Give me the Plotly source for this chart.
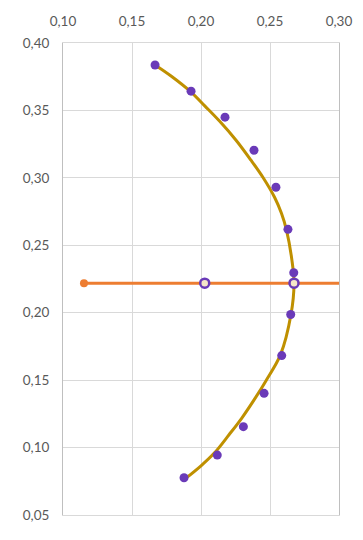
import plotly.graph_objects as go

# Measured points (purple)
pts_x = [0.1667, 0.1928, 0.2174, 0.2384, 0.2543, 0.2630, 0.2672, 0.2650, 0.2585, 0.2457, 0.2307, 0.2118, 0.1877]
pts_y = [0.3837, 0.3643, 0.3450, 0.3205, 0.2930, 0.2618, 0.2296, 0.1987, 0.1682, 0.1402, 0.1155, 0.0944, 0.0776]

# Fitted curve (gold)
curve_x = [0.1667, 0.1783, 0.1928, 0.2029, 0.2134, 0.2254, 0.2362, 0.2453, 0.2533, 0.2583, 0.2620, 0.2659,
           0.2674, 0.2652, 0.2576, 0.2471, 0.2395, 0.2297, 0.2203, 0.2098, 0.2000, 0.1884]
curve_y = [0.3837, 0.3755, 0.3636, 0.3532, 0.3421, 0.3279, 0.3131, 0.2997, 0.2856, 0.2737, 0.2611, 0.2388,
           0.2217, 0.1987, 0.1689, 0.1496, 0.1370, 0.1221, 0.1095, 0.0961, 0.0865, 0.0768]

# Horizontal line (orange)
line_x = [0.1152, 0.30]
line_y = [0.2219, 0.2219]
start_x = [0.1152]
start_y = [0.2219]
cross_x = [0.2027, 0.2674]
cross_y = [0.2219, 0.2219]

PURPLE = "#6A3AB8"
GOLD = "#BF9000"
ORANGE = "#ED7D31"

fig = go.Figure()
fig.add_trace(go.Scatter(x=curve_x, y=curve_y, mode="lines",
                         line=dict(color=GOLD, width=3, shape="spline", smoothing=1.0)))
fig.add_trace(go.Scatter(x=pts_x, y=pts_y, mode="markers",
                         marker=dict(color=PURPLE, size=9, line=dict(width=0))))
fig.add_trace(go.Scatter(x=line_x, y=line_y, mode="lines",
                         line=dict(color=ORANGE, width=3)))
fig.add_trace(go.Scatter(x=start_x, y=start_y, mode="markers",
                         marker=dict(color=ORANGE, size=8, line=dict(width=0))))
fig.add_trace(go.Scatter(x=cross_x, y=cross_y, mode="markers",
                         marker=dict(color="#F6E7C8", size=9, line=dict(color=PURPLE, width=2.5))))

tickfont = dict(family="Lato", size=13.5, color="#595959")
# page body has an 8px margin, so the figure is offset by 8px
fig.update_layout(
    width=355, height=532,
    margin=dict(l=55, r=24, t=35, b=25, autoexpand=False),
    paper_bgcolor="white", plot_bgcolor="white",
    showlegend=False,
    separators=",.",
    xaxis=dict(side="top", range=[0.10, 0.30], dtick=0.05, tick0=0.10, tickformat=".2f",
               showgrid=True, gridcolor="#D9D9D9", gridwidth=1,
               showline=True, linecolor="#D9D9D9", mirror=True,
               zeroline=False, tickfont=tickfont, ticks="", ticklabelstandoff=11),
    yaxis=dict(range=[0.05, 0.40], dtick=0.05, tick0=0.05, tickformat=".2f",
               showgrid=True, gridcolor="#D9D9D9", gridwidth=1,
               showline=True, linecolor="#BFBFBF", mirror=True,
               zeroline=False, tickfont=tickfont, ticks="", ticklabelstandoff=10),
)
fig.write_html("out.html")
